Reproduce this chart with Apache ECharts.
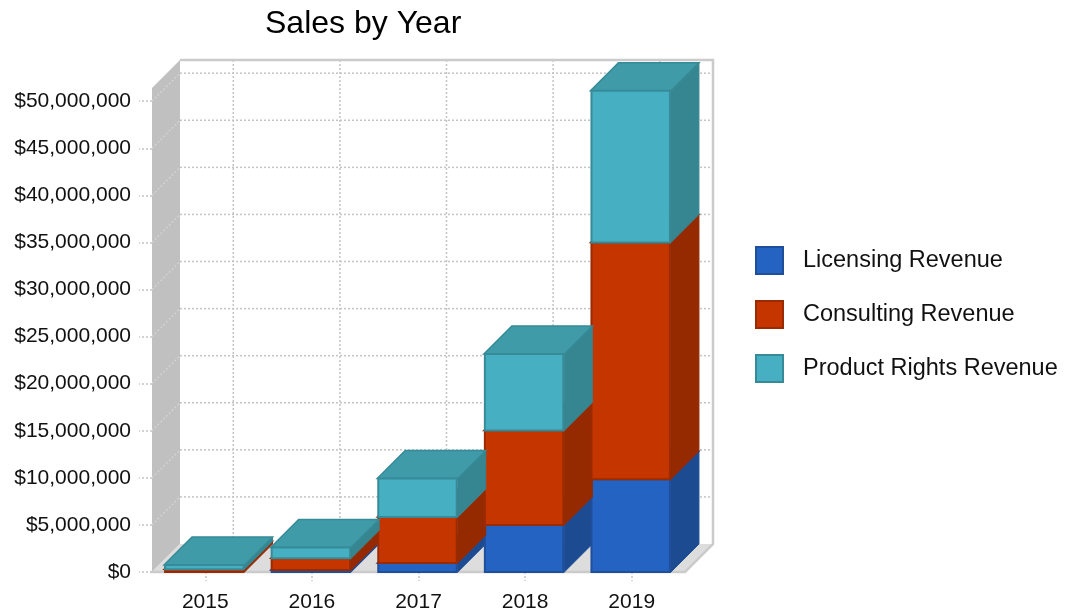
<!DOCTYPE html>
<html>
<head>
<meta charset="utf-8">
<script src="https://cdn.jsdelivr.net/npm/echarts@6/dist/echarts.min.js"></script>
<style>
  html, body { margin: 0; padding: 0; background: #ffffff; }
  #chart { width: 1067px; height: 613px; }
</style>
</head>
<body>
<div id="chart"></div>
<script>
// Categories and yearly revenue figures (USD)
const years = ['2015', '2016', '2017', '2018', '2019'];
const seriesNames = ['Licensing Revenue', 'Consulting Revenue', 'Product Rights Revenue'];
const licensing = [0, 200000, 950000, 5000000, 9850000];
const consulting = [300000, 1250000, 4880000, 10030000, 25150000];
const productRights = [450000, 1150000, 4100000, 8130000, 16100000];
// Value-axis ticks
const yTicks = [0, 5000000, 10000000, 15000000, 20000000, 25000000, 30000000, 35000000, 40000000, 45000000, 50000000];
const yMax = 51400000;

// Screen offset of the back plane (depth of the box)
const DX = 28, DY = -28;
const FONT = '"Liberation Sans", Arial, sans-serif';

// Face colours per series: front, side, top, edge
const palette = [
  { front: '#2563c2', side: '#1d4b92', top: '#2257ab', edge: '#1f4e9b' },
  { front: '#c43500', side: '#952a00', top: '#a82e00', edge: '#9a2b00' },
  { front: '#46b0c2', side: '#368691', top: '#3f9ba8', edge: '#378a97' }
];

const values = [licensing, consulting, productRights];

// Stack the series: each item is [categoryIndex, base, top]
function stackedData(k) {
  return years.map((_, i) => {
    let base = 0;
    for (let j = 0; j < k; j++) base += values[j][i];
    return [i, base, base + values[k][i]];
  });
}

function boxRenderer(k) {
  const c = palette[k];
  return function (params, api) {
    const ci = api.value(0), base = api.value(1), top = api.value(2);
    if (!(top > base)) return null;
    const p0 = api.coord([ci, base]);
    const p1 = api.coord([ci, top]);
    const bw = api.size([1, 0])[0] * 0.755;
    const xl = p0[0] - bw / 2 - 1, xr = p0[0] + bw / 2 - 1;
    const yb = p0[1], yt = p1[1];
    return {
      type: 'group',
      children: [
        { type: 'polygon', shape: { points: [[xr, yb], [xr + DX, yb + DY], [xr + DX, yt + DY], [xr, yt]] },
          style: { fill: c.side, stroke: c.side, lineWidth: 1 } },
        { type: 'polygon', shape: { points: [[xl, yt], [xr, yt], [xr + DX, yt + DY], [xl + DX, yt + DY]] },
          style: { fill: c.top, stroke: c.edge, lineWidth: 1.5 } },
        { type: 'rect', shape: { x: xl + 1, y: yt, width: bw - 2, height: yb - yt },
          style: { fill: c.front, stroke: c.edge, lineWidth: 2 } }
      ]
    };
  };
}

// Walls, floor and dotted grid of the box
function renderFrame(params, api) {
  const cs = params.coordSys;
  const x0 = cs.x, x1 = cs.x + cs.width;
  const y0 = api.coord([0, 0])[1];
  const yT = cs.y;
  const kids = [];
  // left wall
  kids.push({ type: 'polygon', shape: { points: [[x0, yT], [x0 + DX, yT + DY], [x0 + DX, y0 + DY], [x0, y0]] },
    style: { fill: '#c0c0c0' } });
  // faint grid traces on the left wall
  yTicks.forEach(v => {
    const y = api.coord([0, v])[1];
    if (v === 0) return;
    kids.push({ type: 'line', shape: { x1: x0, y1: y, x2: x0 + DX, y2: y + DY },
      style: { stroke: '#d2d5d8', lineWidth: 1.2, lineDash: [2, 2] } });
  });
  // back wall
  kids.push({ type: 'rect', shape: { x: x0 + DX, y: yT + DY, width: x1 - x0, height: y0 - yT },
    style: { fill: '#ffffff' } });
  // floor
  kids.push({ type: 'polygon', shape: { points: [[x0, y0], [x1, y0], [x1 + DX, y0 + DY], [x0 + DX, y0 + DY]] },
    style: { fill: '#dddddd' } });
  // horizontal grid on the back wall
  yTicks.forEach(v => {
    if (v === 0) return;
    const y = api.coord([0, v])[1] + DY;
    kids.push({ type: 'line', shape: { x1: x0 + DX, y1: y, x2: x1 + DX, y2: y },
      style: { stroke: '#c4c4c4', lineWidth: 1.5, lineDash: [2, 2] } });
  });
  // vertical grid at category centres
  years.forEach((_, i) => {
    const x = api.coord([i, 0])[0] + DX;
    kids.push({ type: 'line', shape: { x1: x, y1: yT + DY, x2: x, y2: y0 + DY },
      style: { stroke: '#c4c4c4', lineWidth: 1.5, lineDash: [2, 2] } });
  });
  // outer edges
  kids.push({ type: 'polyline', shape: { points: [[x0 + DX, yT + DY], [x1 + DX, yT + DY], [x1 + DX, y0 + DY], [x1, y0], [x0 - 2, y0]] },
    style: { stroke: '#cbcbcb', lineWidth: 2.5, fill: null } });
  return { type: 'group', children: kids };
}

const chart = echarts.init(document.getElementById('chart'), null, { renderer: 'canvas' });

const series = [{
  type: 'custom',
  name: 'frame',
  silent: true,
  z: 1,
  renderItem: renderFrame,
  data: [[0, 0]],
  encode: { x: 0, y: 1 }
}];
seriesNames.forEach((name, k) => {
  series.push({
    type: 'custom',
    name: name,
    z: 2 + k,
    renderItem: boxRenderer(k),
    itemStyle: { color: palette[k].front, borderColor: palette[k].edge, borderWidth: 1.5 },
    data: stackedData(k),
    encode: { x: 0, y: [1, 2] }
  });
});

chart.setOption({
  animation: false,
  backgroundColor: '#ffffff',
  title: {
    text: 'Sales by Year',
    left: 265,
    top: 8,
    padding: 0,
    textStyle: { fontFamily: FONT, fontSize: 32, fontWeight: 'normal', color: '#000000' }
  },
  legend: {
    orient: 'vertical',
    left: 750,
    top: 241,
    itemWidth: 27,
    itemHeight: 27,
    itemGap: 25,
    icon: 'rect',
    data: seriesNames,
    textStyle: { fontFamily: FONT, fontSize: 23.5, color: '#111111', padding: [0, 0, 0, 15] }
  },
  grid: { left: 152, right: 382, top: 88, bottom: 40, containLabel: false },
  xAxis: {
    type: 'category',
    data: years,
    axisLine: { show: false },
    axisTick: { show: true, alignWithLabel: true, length: 9, lineStyle: { color: '#c4c4c4', width: 1.5, type: [2, 2] } },
    axisLabel: { fontFamily: FONT, fontSize: 21, color: '#111111', margin: 20 },
    splitLine: { show: false }
  },
  yAxis: {
    type: 'value',
    min: 0,
    max: yMax,
    interval: 5000000,
    axisLine: { show: false },
    axisTick: { show: true, length: 13, lineStyle: { color: '#c4c4c4', width: 1.5, type: [2, 2] } },
    axisLabel: {
      fontFamily: FONT, fontSize: 21, color: '#111111', margin: 21, showMaxLabel: false,
      formatter: v => yTicks.indexOf(v) >= 0 ? '$' + v.toLocaleString('en-US') : ''
    },
    splitLine: { show: false }
  },
  series: series
});
</script>
</body>
</html>
